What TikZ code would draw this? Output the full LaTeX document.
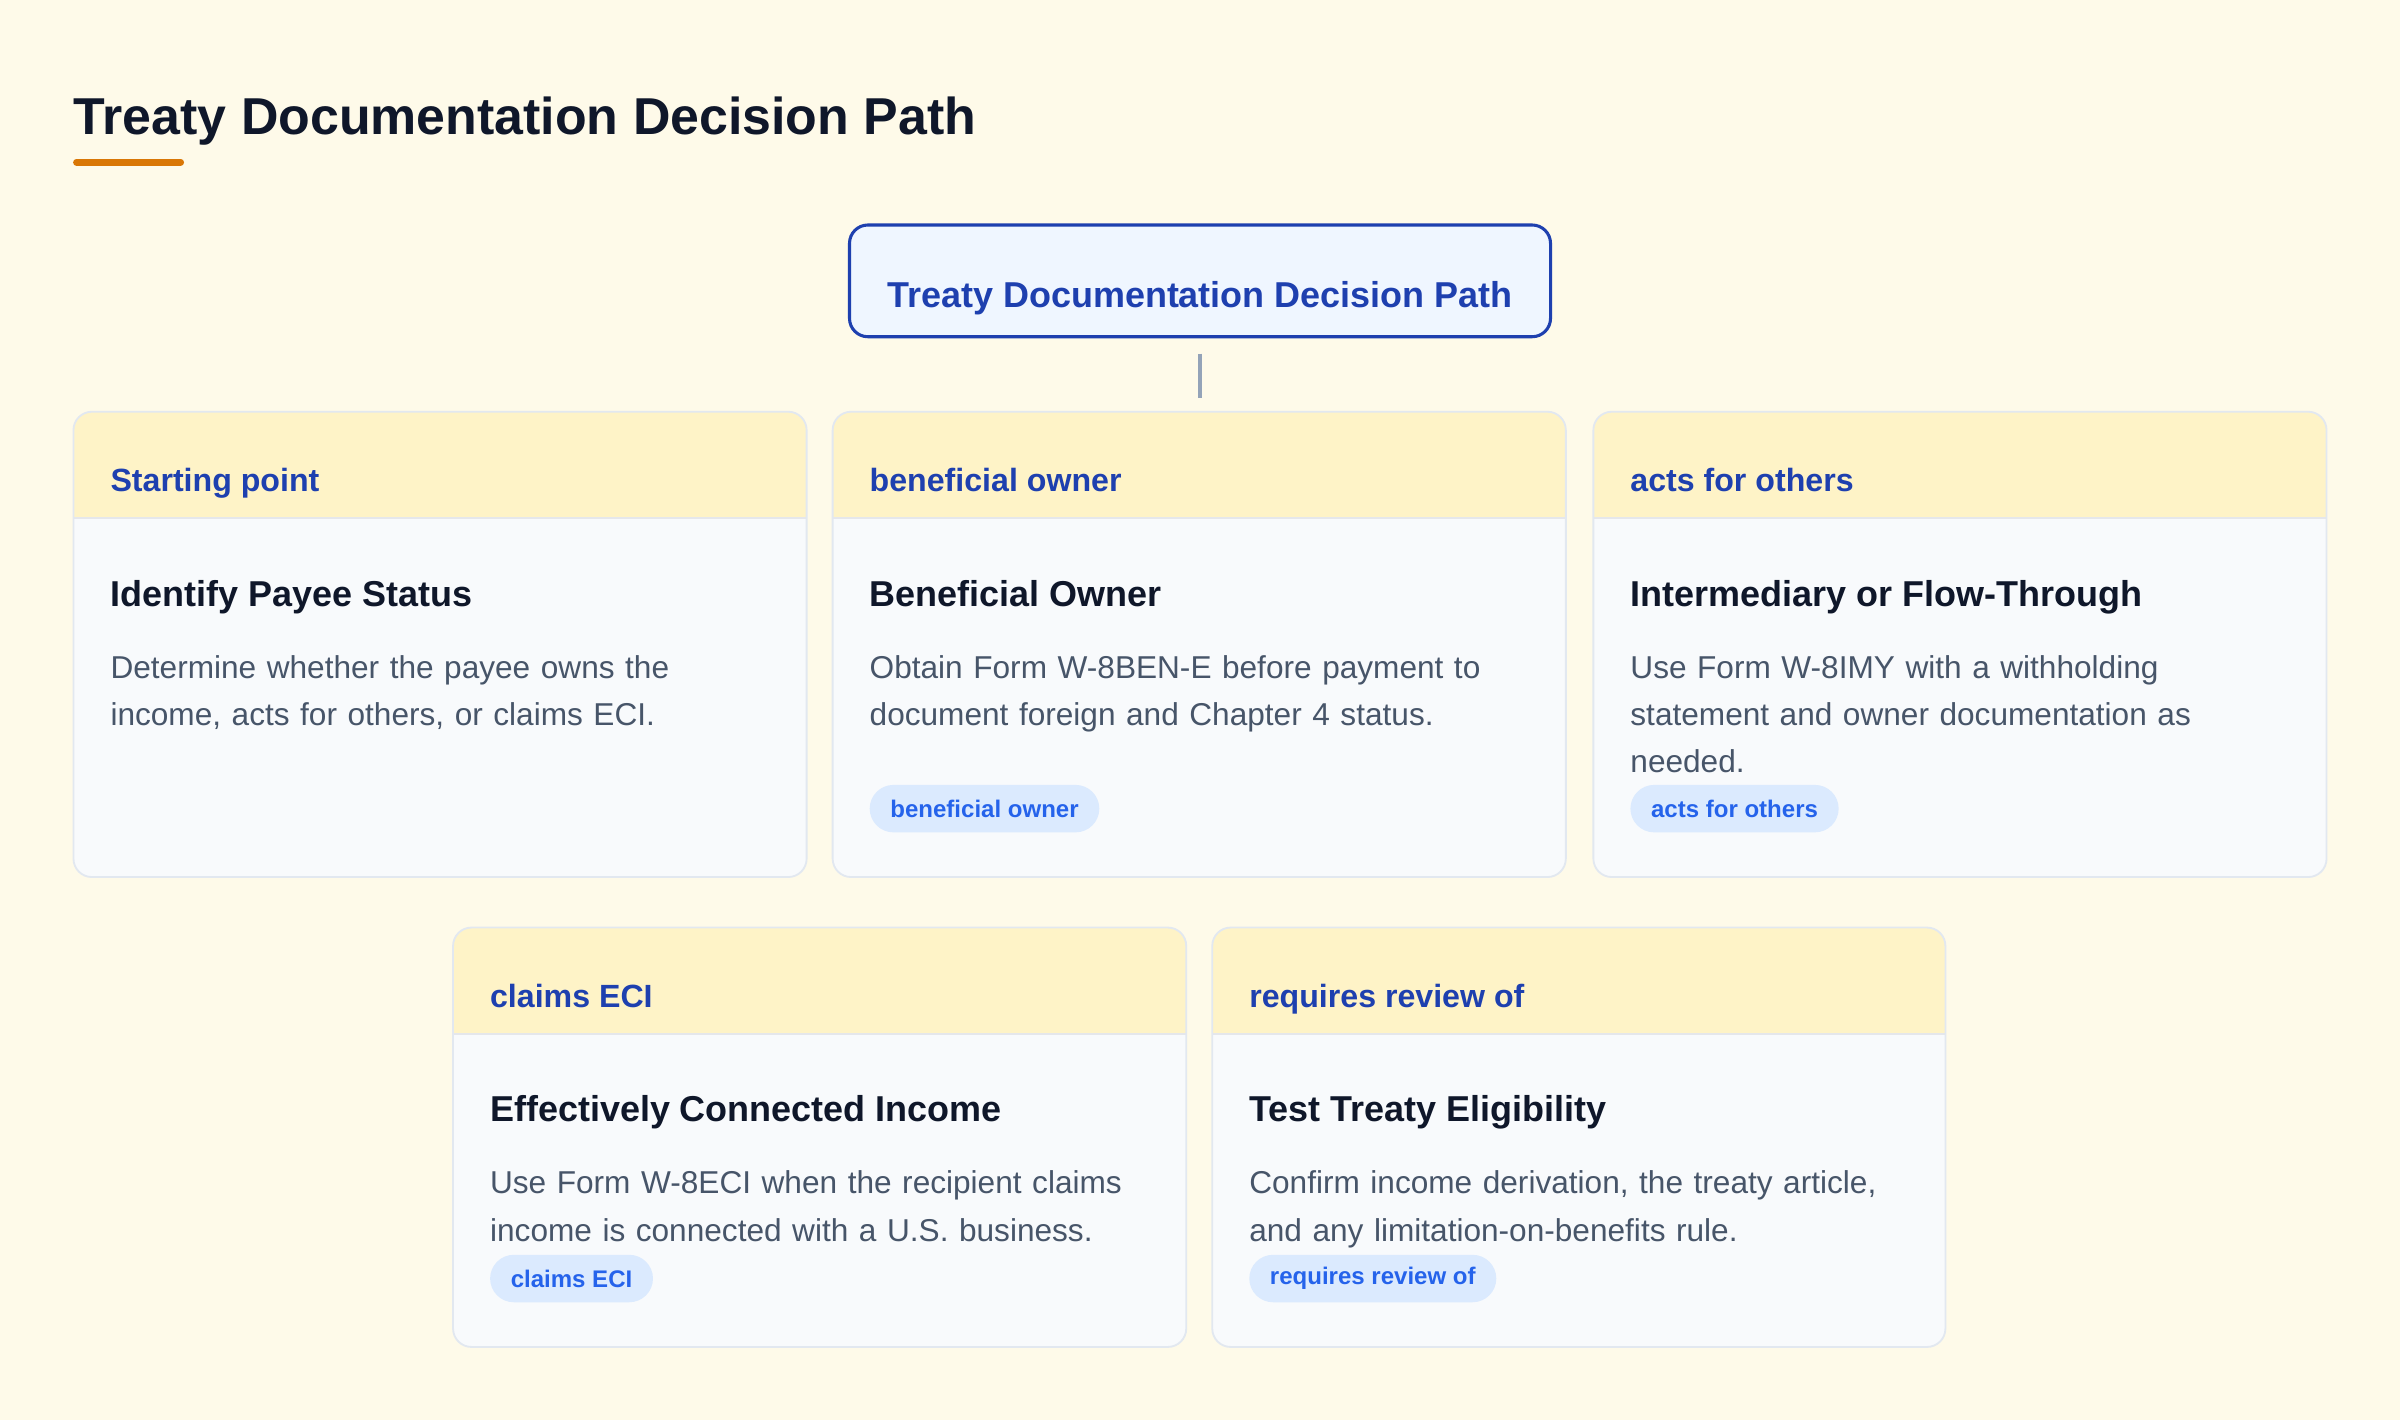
\documentclass[tikz,border=0pt]{standalone}
\usepackage{fontspec}
\setmainfont{Liberation Sans}
\definecolor{bgc}{HTML}{FEFAE9}
\definecolor{ink}{HTML}{0F172A}
\definecolor{accent}{HTML}{D97706}
\definecolor{hdrblue}{HTML}{1E40AF}
\definecolor{rootfill}{HTML}{EFF6FF}
\definecolor{hdrfill}{HTML}{FEF3C7}
\definecolor{bodyfill}{HTML}{F8FAFC}
\definecolor{cardborder}{HTML}{E2E8F0}
\definecolor{divc}{HTML}{E5E7EB}
\definecolor{slate}{HTML}{475569}
\definecolor{pillfill}{HTML}{DBEAFE}
\definecolor{pillblue}{HTML}{2563EB}
\definecolor{connc}{HTML}{94A3B8}
\newcommand\mkcard[7]{%
  \node[card, minimum height=#4pt, anchor=north west] (#1) at (#2,#3) {};
  \begin{scope}
    \clip[rounded corners=12pt] (#1.north west) rectangle (#1.south east);
    \fill[hdrfill] (#1.north west) rectangle ([yshift=-69.5pt]#1.north east);
  \end{scope}
  \draw[divc, line width=1pt] ([yshift=-69.5pt]#1.north west) -- ([yshift=-69.5pt]#1.north east);
  \draw[cardline] (#1.north west) rectangle (#1.south east);
  \node[hdrtext, anchor=base west] (#1h) at ([xshift=24pt,yshift=-52pt]#1.north west) {#5};
  \node[titletext, anchor=base west] (#1t) at ([xshift=24pt,yshift=-127pt]#1.north west) {#6};
  \node[desctext, anchor=base west] (#1d) at ([xshift=24pt,yshift=-174pt]#1.north west) {#7};
}
\begin{document}
\begin{tikzpicture}[x=1pt,y=1pt,
  card/.style={rectangle, rounded corners=12pt, fill=bodyfill, minimum width=479pt, inner sep=0pt, outer sep=0pt},
  cardline/.style={draw=cardborder, line width=1.2pt, rounded corners=12pt},
  hdrtext/.style={font=\fontsize{21}{25}\selectfont\bfseries, text=hdrblue, inner sep=0pt},
  titletext/.style={font=\fontsize{23.5}{28}\selectfont\bfseries, text=ink, inner sep=0pt},
  desctext/.style={font=\fontsize{20.65}{31}\selectfont, text=slate, inner sep=0pt, text width=440pt, align=left},
  pill/.style={rectangle, rounded corners=15.5pt, fill=pillfill, text=pillblue, font=\fontsize{15.7}{18}\selectfont\bfseries, minimum height=31pt, inner xsep=13.5pt, inner ysep=0pt, anchor=south west},
  rootbox/.style={rectangle, rounded corners=12pt, draw=hdrblue, line width=2pt, fill=rootfill, minimum width=458pt, minimum height=73pt, text=hdrblue, font=\fontsize{23.5}{28}\selectfont\bfseries, text height=38pt, text depth=3pt, inner sep=0pt},
  conn/.style={draw=connc, line width=2pt}
]
\useasboundingbox (0,0) rectangle (1568,-928);
\fill[bgc] (0,0) rectangle (1568,-928);

% page title
\node[anchor=base west, inner sep=0pt, font=\fontsize{33.9}{40}\selectfont\bfseries, text=ink] (title) at (48,-88) {Treaty Documentation Decision Path};
\coordinate (barL) at (50,-106);
\coordinate (barR) at (118,-106);
\draw[accent, line width=4.5pt, line cap=round] (barL) -- (barR);

% root node
\node[rootbox] (root) at (784,-183.5) {Treaty Documentation Decision Path};

% cards
\mkcard{c1}{48}{-269}{304}{Starting point}{Identify Payee Status}{Determine whether the payee owns the\\income, acts for others, or claims ECI.}
\mkcard{c2}{544}{-269}{304}{beneficial owner}{Beneficial Owner}{Obtain Form W-8BEN-E before payment to\\document foreign and Chapter 4 status.}
\mkcard{c3}{1041}{-269}{304}{acts for others}{Intermediary or Flow-Through}{Use Form W-8IMY with a withholding\\statement and owner documentation as\\needed.}
\mkcard{c4}{296}{-606}{274}{claims ECI}{Effectively Connected Income}{Use Form W-8ECI when the recipient claims\\income is connected with a U.S. business.}
\mkcard{c5}{792}{-606}{274}{requires review of}{Test Treaty Eligibility}{Confirm income derivation, the treaty article,\\and any limitation-on-benefits rule.}

% tags
\node[pill] (c2p) at ([xshift=24pt,yshift=29pt]c2.south west) {beneficial owner};
\node[pill] (c3p) at ([xshift=24pt,yshift=29pt]c3.south west) {acts for others};
\node[pill] (c4p) at ([xshift=24pt,yshift=29pt]c4.south west) {claims ECI};
\node[pill] (c5p) at ([xshift=24pt,yshift=29pt]c5.south west) {requires review of};

% connector
\draw[conn] ([yshift=-10pt]root.south) -- ([yshift=9pt]root.south |- c2.north);
\end{tikzpicture}
\end{document}
